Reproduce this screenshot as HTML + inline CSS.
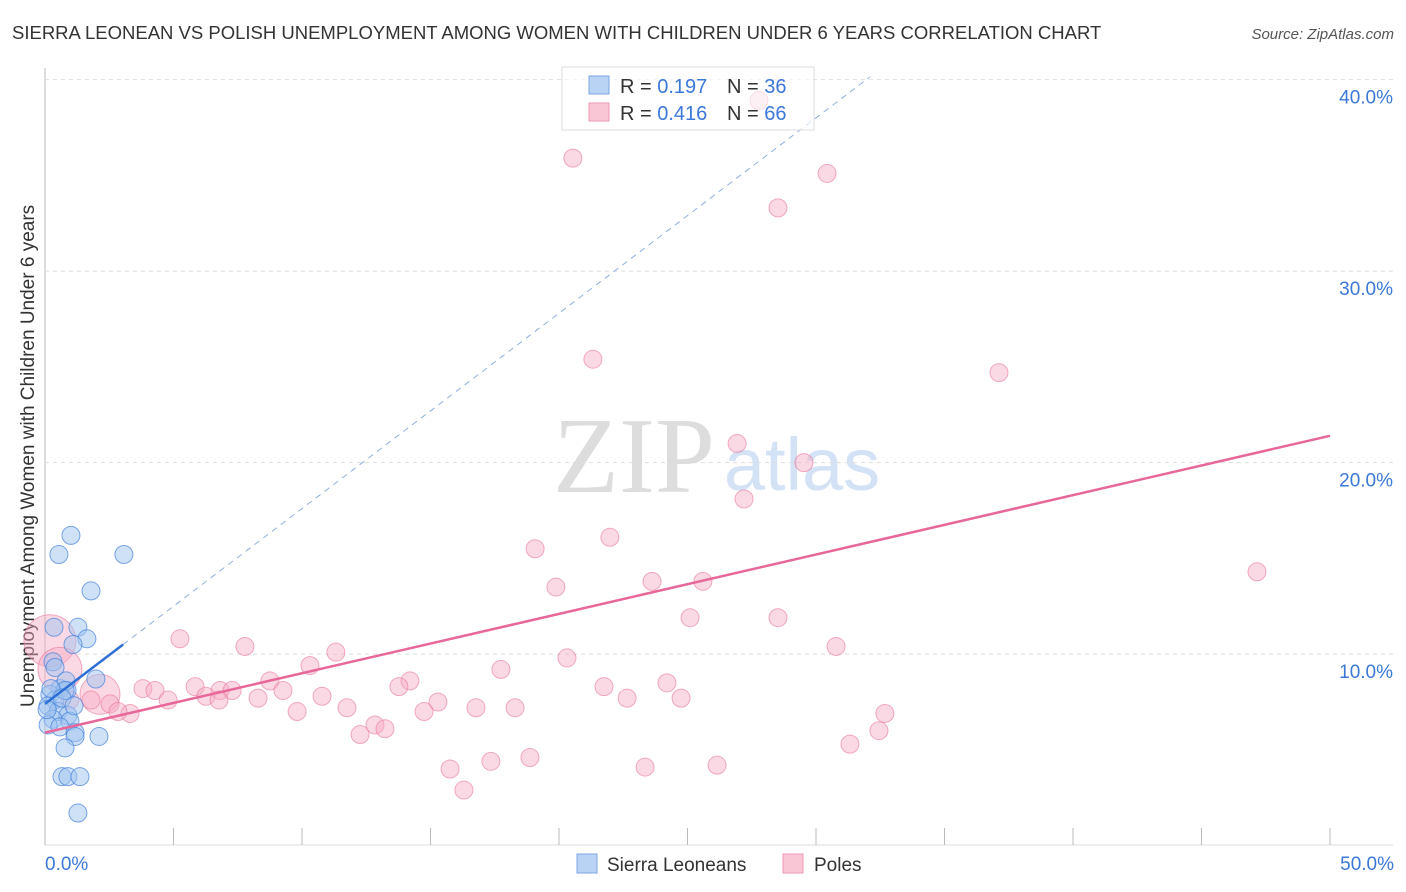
<!DOCTYPE html>
<html><head><meta charset="utf-8"><style>
body{margin:0;background:#fff;font-family:"Liberation Sans",sans-serif}
svg{display:block}
</style></head><body>
<svg id="chart" width="1406" height="892">
<text x="12" y="39" font-size="18.5" fill="#333">SIERRA LEONEAN VS POLISH UNEMPLOYMENT AMONG WOMEN WITH CHILDREN UNDER 6 YEARS CORRELATION CHART</text>
<text x="1394" y="39" font-size="15" fill="#555" font-style="italic" text-anchor="end">Source: ZipAtlas.com</text>
<text x="634" y="492" font-size="108" fill="#ddd" text-anchor="middle" font-family="Liberation Serif,serif">ZIP</text>
<text x="802" y="490" font-size="74" fill="#d4e2f5" text-anchor="middle">atlas</text>
<text transform="translate(34,456) rotate(-90)" font-size="19" fill="#333" text-anchor="middle">Unemployment Among Women with Children Under 6 years</text>
<g id="grid"></g><g id="marks"></g>
<g>
<rect x="562" y="67" width="252" height="63" fill="#fff" fill-opacity="0.6" stroke="#ddd"/>
<rect x="589" y="76" width="20" height="18" fill="#b9d3f5" stroke="#7aa7e3"/>
<rect x="589" y="103" width="20" height="18" fill="#f9c6d5" stroke="#ee99b3"/>
<text x="620" y="93" font-size="20" fill="#333">R = <tspan fill="#3b78d8">0.197</tspan></text>
<text x="727" y="93" font-size="20" fill="#333">N = <tspan fill="#3b78d8">36</tspan></text>
<text x="620" y="120" font-size="20" fill="#333">R = <tspan fill="#3b78d8">0.416</tspan></text>
<text x="727" y="120" font-size="20" fill="#333">N = <tspan fill="#3b78d8">66</tspan></text>
</g>
<g>
<rect x="577" y="854" width="20" height="19" fill="#b9d3f5" stroke="#7aa7e3"/>
<text x="607" y="871" font-size="19" fill="#333">Sierra Leoneans</text>
<rect x="783" y="854" width="20" height="19" fill="#f9c6d5" stroke="#ee99b3"/>
<text x="814" y="871" font-size="19" fill="#333">Poles</text>
</g>
</svg>
<script>
const blueX=[1.01,0.54,3.07,1.79,0.35,1.28,1.63,1.09,0.31,0.39,0.58,0.86,0.82,0.19,0.39,0.12,0.51,0.89,0.31,0.97,0.12,0.58,1.17,1.17,2.10,0.78,0.66,0.89,1.36,1.28,1.98,0.78,0.23,0.66,1.13,0.08];
const blueY=[16.2,15.2,15.2,13.3,11.4,11.4,10.8,10.5,9.6,9.3,8.2,8.1,8.6,7.9,7.6,7.3,7.0,6.8,6.6,6.5,6.3,6.2,5.9,5.7,5.7,5.1,3.6,3.6,3.6,1.7,8.7,8.1,8.2,7.7,7.3,7.1];
const pinkX=[0.19,0.58,2.14,27.78,20.54,30.43,28.52,21.32,37.12,26.93,29.53,27.20,19.07,21.98,47.16,19.88,23.62,25.60,25.10,28.52,5.25,30.78,7.78,11.32,20.31,17.74,10.31,14.20,13.77,21.75,24.20,8.75,5.84,3.81,4.28,6.81,7.28,9.26,6.26,4.79,10.78,22.65,24.75,15.29,8.29,6.77,16.77,18.29,11.75,9.81,14.75,32.68,3.31,2.53,1.79,0.97,2.84,12.84,13.23,12.26,32.45,31.32,18.87,17.35,15.76,26.15,23.35,16.30];
const pinkY=[10.7,9.2,7.9,38.9,35.9,35.1,33.3,25.4,24.7,21.0,20.0,18.1,15.5,16.1,14.3,13.5,13.8,13.8,11.9,11.9,10.8,10.4,10.4,10.1,9.8,9.2,9.4,8.6,8.3,8.3,8.5,8.6,8.3,8.2,8.1,8.1,8.1,8.1,7.8,7.6,7.8,7.7,7.7,7.5,7.7,7.6,7.2,7.2,7.2,7.0,7.0,6.9,6.9,7.4,7.6,7.6,7.0,6.3,6.1,5.8,6.0,5.3,4.6,4.4,4.0,4.2,4.1,2.9];
const pinkR=[26,22,20];
const yTicks=[10,20,30,40];
const xTicks=[0,5,10,15,20,25,30,35,40,45,50];
const pinkTrend=[5.9,21.4];
const blueTrend=[7.4,1.02];
const X=v=>45+v*25.7, Y=v=>845.6-v*19.15;
const NS="http://www.w3.org/2000/svg";
const g=document.getElementById('grid'), m=document.getElementById('marks');
function mk(p,t,a){const e=document.createElementNS(NS,t);for(const k in a)e.setAttribute(k,a[k]);p.appendChild(e);return e;}
let ax=mk(g,'line',{x1:45,y1:68,x2:45,y2:845,stroke:'#bbb'});


let bx=mk(g,'line',{x1:45,y1:845,x2:1393,y2:845,stroke:'#ddd'});


yTicks.forEach(t=>{
 const l=mk(g,'line',{x1:45,x2:1393,y1:Y(t),y2:Y(t),stroke:'#ddd','stroke-dasharray':'4,4'});
 
 
 const s=mk(g,'text',{x:1393,y:Y(t)+24,'font-size':19,fill:'#3b78d8','text-anchor':'end'});
 s.textContent=t.toFixed(1)+'%';
 
 
});
xTicks.forEach(t=>{
 const l=mk(g,'line',{x1:X(t),x2:X(t),y1:828,y2:845,stroke:'#bbb'});
 
 
});
[[0,'start',45],[50,'end',1394]].forEach(([t,a,x])=>{
 const s=mk(g,'text',{x:x,y:870,'font-size':19,fill:'#3b78d8','text-anchor':a});
 s.textContent=t.toFixed(1)+'%';
 
 
});
pinkX.forEach((v,i)=>{
 const c=mk(m,'circle',{cx:X(v),cy:Y(pinkY[i]),r:pinkR[i]||9,fill:'rgba(246,170,195,0.45)',stroke:'rgba(232,120,155,0.6)','stroke-width':1});
 
 
});
blueX.forEach((v,i)=>{
 const c=mk(m,'circle',{cx:X(v),cy:Y(blueY[i]),r:9,fill:'rgba(160,196,240,0.5)',stroke:'rgba(70,130,220,0.7)','stroke-width':1});
 
 
});
const pl=mk(m,'line',{x1:X(0),y1:Y(pinkTrend[0]),x2:X(50),y2:Y(pinkTrend[1]),stroke:'#e8679a','stroke-width':2.5});


const bd=mk(m,'line',{x1:X(3.04),y1:Y(blueTrend[0]+blueTrend[1]*3.04),x2:X(32.1),y2:Y(blueTrend[0]+blueTrend[1]*32.1),stroke:'#8fb0e0','stroke-width':1,'stroke-dasharray':'6,5'});


const bl=mk(m,'line',{x1:X(0),y1:Y(blueTrend[0]),x2:X(3.04),y2:Y(blueTrend[0]+blueTrend[1]*3.04),stroke:'#2e6fd6','stroke-width':2.5});


</script>
</body></html>
